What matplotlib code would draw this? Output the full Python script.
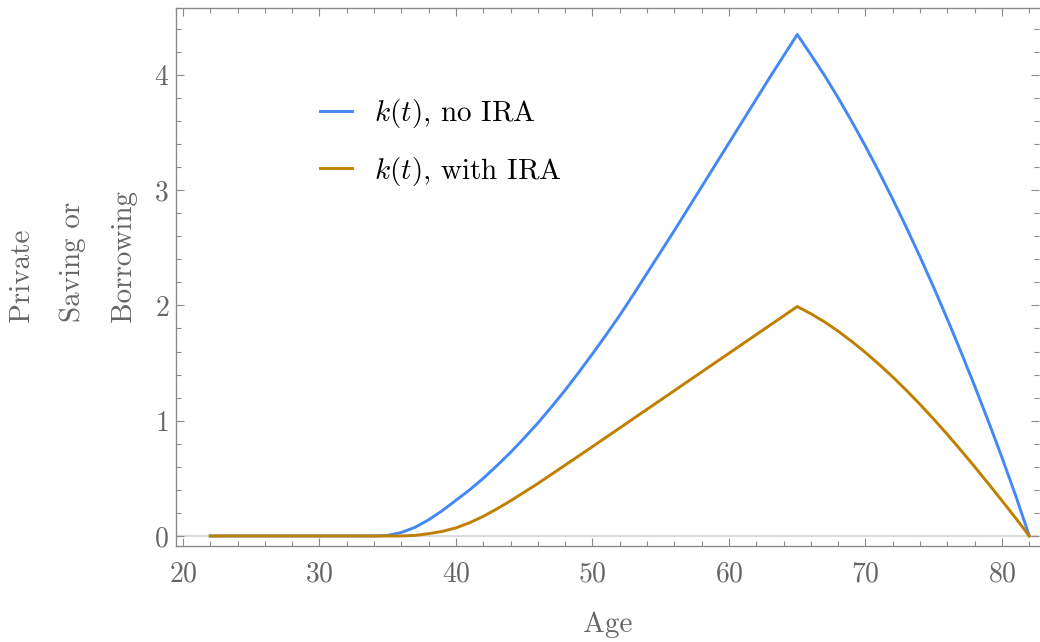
import matplotlib
matplotlib.use("Agg")
import matplotlib.pyplot as plt
from matplotlib.ticker import MultipleLocator

plt.rcParams['font.family'] = ['cmr10', 'DejaVu Serif']
plt.rcParams['mathtext.fontset'] = 'cm'
plt.rcParams['axes.formatter.use_mathtext'] = True

# age grid and the two capital paths
age_no_ira = [22, 30, 34, 35, 36, 37, 38, 39, 40, 41, 42, 43, 44, 45, 46, 47, 48, 49,
              50, 51, 52, 53, 54, 55, 56, 57, 58, 59, 60, 61, 62, 63, 64, 65,
              66, 67, 68, 69, 70, 71, 72, 73, 74, 75, 76, 77, 78, 79, 80, 81, 82]
k_no_ira = [0, 0, 0, 0.005, 0.03, 0.075, 0.14, 0.22, 0.31, 0.40, 0.50, 0.61, 0.725, 0.85,
            0.98, 1.12, 1.265, 1.42, 1.58, 1.745, 1.915, 2.095, 2.28, 2.465, 2.65, 2.84,
            3.03, 3.22, 3.41, 3.60, 3.79, 3.98, 4.165, 4.35,
            4.175, 3.995, 3.80, 3.595, 3.38, 3.155, 2.92, 2.675, 2.42, 2.155, 1.88, 1.595,
            1.30, 0.995, 0.68, 0.35, 0]

age_ira = [22, 30, 36, 37, 38, 39, 40, 41, 42, 43, 44, 45, 46, 47, 48, 49,
           50, 51, 52, 53, 54, 55, 56, 57, 58, 59, 60, 61, 62, 63, 64, 65,
           66, 67, 68, 69, 70, 71, 72, 73, 74, 75, 76, 77, 78, 79, 80, 81, 82]
k_ira = [0, 0, 0, 0.005, 0.02, 0.04, 0.07, 0.115, 0.17, 0.235, 0.305, 0.38, 0.455, 0.535,
         0.615, 0.695, 0.775, 0.856, 0.937, 1.018, 1.099, 1.18, 1.261, 1.342, 1.423, 1.504,
         1.585, 1.666, 1.747, 1.828, 1.909, 1.99,
         1.928, 1.857, 1.776, 1.687, 1.591, 1.488, 1.379, 1.263, 1.141, 1.013, 0.88, 0.742,
         0.60, 0.454, 0.306, 0.155, 0]

labels = [r"$k(t)$, no IRA", r"$k(t)$, with IRA"]
colors = ['#4388f5', '#c17f00']
frame_col = '#8a8a8a'
text_col = '#666666'

fig = plt.figure(figsize=(10.4, 6.42), dpi=100)
ax = fig.add_axes([176 / 1040, 96 / 642, 863 / 1040, 538 / 642])

ax.axhline(0, color='#dcdcdc', lw=1.5, zorder=1)
ax.plot(age_no_ira, k_no_ira, color=colors[0], lw=2.1, label=labels[0], zorder=3,
        solid_joinstyle='round')
ax.plot(age_ira, k_ira, color=colors[1], lw=2.1, label=labels[1], zorder=3,
        solid_joinstyle='round')

ax.set_xlim(19.49, 82.71)
ax.set_ylim(-0.087, 4.58)

ax.xaxis.set_major_locator(MultipleLocator(10))
ax.xaxis.set_minor_locator(MultipleLocator(2))
ax.yaxis.set_major_locator(MultipleLocator(1))
ax.yaxis.set_minor_locator(MultipleLocator(0.2))

for s in ['left', 'bottom', 'top']:
    ax.spines[s].set_color(frame_col)
    ax.spines[s].set_linewidth(1.0)
ax.spines['right'].set_visible(False)

ax.tick_params(which='both', direction='in', top=True, right=True, color=frame_col,
               labelsize=20, labelcolor=text_col, width=0.8)
ax.tick_params(which='major', length=6)
ax.tick_params(which='minor', length=3.5)
ax.tick_params(axis='x', which='major', pad=11)
ax.tick_params(axis='y', which='major', pad=5)
# right side ticks are only faint
for tick in ax.yaxis.get_major_ticks() + ax.yaxis.get_minor_ticks():
    tick.tick2line.set_color('#e4e4e4')

ax.set_xlabel('Age', fontsize=21, color=text_col, labelpad=17)
fig.text(0.008, 0.498, "Private\nSaving or\nBorrowing", rotation=90, ha='left', va='bottom',
         multialignment='left', fontsize=21, color=text_col, linespacing=2.2)

ax.legend(loc='upper left', bbox_to_anchor=(0.167, 0.835), frameon=False, fontsize=21,
          handlelength=1.1, handletextpad=0.75, labelspacing=0.85, borderpad=0,
          borderaxespad=0)

fig.savefig('out.png', dpi=100)
